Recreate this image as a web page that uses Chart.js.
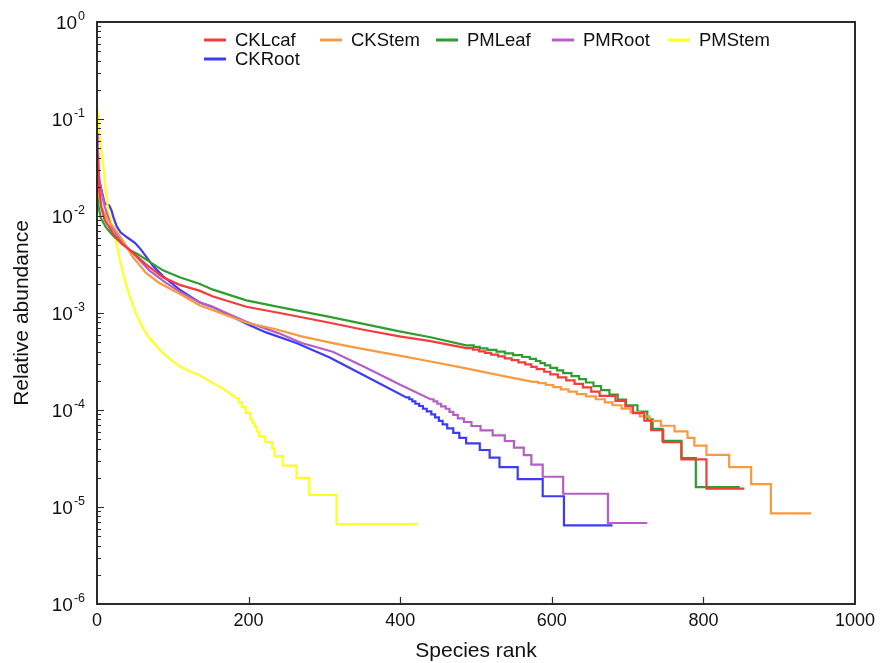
<!DOCTYPE html>
<html>
<head>
<meta charset="utf-8">
<script src="https://cdn.jsdelivr.net/npm/chart.js@4.4.1/dist/chart.umd.min.js"></script>
<style>
  html, body { margin: 0; padding: 0; background: #ffffff; }
  #wrap { width: 893px; height: 663px; position: relative; }
</style>
</head>
<body>
<div id="wrap"><canvas id="chart"></canvas></div>
<script>
// ---- series names and colours (legend order) ----
const seriesNames  = ['CKLcaf', 'CKStem', 'PMLeaf', 'PMRoot', 'PMStem', 'CKRoot'];
const seriesColors = ['#f43c3c', '#f99a40', '#2f9d2f', '#b55fc4', '#ffff22', '#3c3cf6'];

// ---- rank-abundance curves ----
// "Curve" arrays: [species rank, relative abundance] along the smooth head of each curve.
// "Steps" arrays: [rank at which a new abundance level starts, abundance]; the last entry is the final rank.
const ckLcafCurve = [[0,0.0447],[1,0.0316],[3,0.0186],[6,0.012],[10,0.00912],[21,0.00661],[32,0.00525],[43,0.00447],[65,0.00316],[87,0.00234],[109,0.00195],[135,0.0017],[153,0.00148],[197,0.00116],[241,0.001],[307,0.000794],[350,0.000676],[399,0.000575],[440,0.000513],[487,0.000434]];
const ckLcafSteps = [[496,4.19e-4],[504,4.03e-4],[512,3.88e-4],[520,3.72e-4],[529,3.57e-4],[538,3.41e-4],[547,3.26e-4],[556,3.1e-4],[565,2.95e-4],[573,2.79e-4],[580,2.64e-4],[590,2.48e-4],[598,2.33e-4],[608,2.17e-4],[619,2.02e-4],[630,1.86e-4],[641,1.71e-4],[652,1.55e-4],[663,1.40e-4],[684,1.24e-4],[697,1.09e-4],[707,9.3e-5],[722,7.75e-5],[731,6.2e-5],[747,4.65e-5],[771,3.1e-5],[804,1.55e-5],[854,1.55e-5]];

const ckStemCurve = [[0,0.0275],[2,0.0178],[5,0.0126],[14,0.00912],[21,0.00776],[34,0.00562],[47,0.0038],[65,0.00257],[82,0.00204],[109,0.00158],[135,0.0012],[153,0.00107],[197,0.000794],[232,0.000692],[270,0.000575],[311,0.00049],[350,0.000427],[399,0.000363],[440,0.000316],[487,0.000269],[530,0.000229],[575,0.000195]];
const ckStemSteps = [[582,1.89e-4],[592,1.81e-4],[602,1.72e-4],[612,1.63e-4],[622,1.55e-4],[633,1.46e-4],[645,1.38e-4],[658,1.29e-4],[670,1.20e-4],[680,1.12e-4],[692,1.03e-4],[704,9.46e-5],[716,8.6e-5],[729,7.74e-5],[744,6.88e-5],[762,6.02e-5],[779,5.16e-5],[788,4.3e-5],[804,3.44e-5],[834,2.58e-5],[863,1.72e-5],[889,8.6e-6],[942,8.6e-6]];

const pmLeafCurve = [[0,0.02],[2,0.0126],[5,0.00955],[12,0.00759],[21,0.00631],[32,0.00525],[43,0.00447],[55,0.00398],[65,0.00355],[87,0.00275],[109,0.00234],[135,0.002],[153,0.00174],[197,0.00135],[241,0.00115],[307,0.000912],[350,0.000776],[399,0.000646],[440,0.000562],[487,0.000464]];
const pmLeafSteps = [[497,4.48e-4],[505,4.32e-4],[515,4.16e-4],[527,4.0e-4],[538,3.84e-4],[549,3.68e-4],[561,3.52e-4],[571,3.36e-4],[579,3.2e-4],[585,3.04e-4],[591,2.88e-4],[598,2.72e-4],[607,2.56e-4],[615,2.4e-4],[626,2.24e-4],[636,2.08e-4],[645,1.92e-4],[655,1.76e-4],[665,1.6e-4],[676,1.44e-4],[687,1.28e-4],[698,1.12e-4],[713,9.6e-5],[726,8.0e-5],[733,6.4e-5],[746,4.8e-5],[771,3.2e-5],[790,1.6e-5],[848,1.6e-5]];

const pmRootCurve = [[0,0.0708],[1,0.0513],[3,0.0234],[10,0.0126],[19,0.00776],[34,0.00525],[52,0.0038],[69,0.00275],[91,0.00204],[109,0.00166],[135,0.00129],[153,0.00115],[197,0.000813],[240,0.000617],[270,0.00049],[311,0.000398],[351,0.000282],[400,0.000182],[440,0.000129]];
const pmRootSteps = [[444,1.23e-4],[449,1.16e-4],[454,1.09e-4],[460,1.03e-4],[465,9.58e-5],[470,8.89e-5],[476,8.21e-5],[484,7.52e-5],[494,6.84e-5],[506,6.16e-5],[522,5.47e-5],[538,4.79e-5],[550,4.1e-5],[563,3.42e-5],[573,2.74e-5],[588,2.05e-5],[615,1.37e-5],[674,6.84e-6],[726,6.84e-6]];

const pmStemCurve = [[0,0.129],[2,0.0891],[4,0.0603],[6,0.0447],[8,0.0347],[11,0.02],[14,0.0126],[17,0.00955],[21,0.00776],[25,0.0055],[30,0.00355],[36,0.00229],[43,0.00148],[52,0.000955],[60,0.000708],[68,0.000562],[75,0.00049],[85,0.000398],[97,0.000331],[109,0.000282],[122,0.000251],[135,0.000229],[150,0.000195],[166,0.000166],[175,0.000148],[184,0.000132]];
const pmStemSteps = [[187,1.2e-4],[191,1.07e-4],[196,9.34e-5],[202,8.0e-5],[205,7.34e-5],[208,6.67e-5],[211,6.0e-5],[214,5.34e-5],[222,4.67e-5],[231,4.0e-5],[234,3.34e-5],[245,2.67e-5],[263,2.0e-5],[280,1.33e-5],[316,6.67e-6],[423,6.67e-6]];

const ckRootCurve = [[0,0.0398],[3,0.0234],[10,0.0135],[16,0.0129],[19,0.0115],[22,0.0095],[26,0.0078],[31,0.0068],[40,0.006],[50,0.0053],[58,0.0045],[66,0.0037],[74,0.00305],[87,0.0024],[109,0.00174],[135,0.00129],[153,0.00115],[197,0.000776],[223,0.000631],[263,0.00049],[307,0.000347],[364,0.000204],[408,0.000135]];
const ckRootSteps = [[412,1.29e-4],[416,1.23e-4],[420,1.16e-4],[425,1.10e-4],[430,1.03e-4],[435,9.68e-5],[441,9.03e-5],[446,8.39e-5],[451,7.74e-5],[456,7.1e-5],[462,6.45e-5],[470,5.81e-5],[478,5.16e-5],[487,4.52e-5],[505,3.87e-5],[518,3.23e-5],[531,2.58e-5],[555,1.94e-5],[588,1.29e-5],[616,6.45e-6],[680,6.45e-6]];

// ---- axis ticks ----
const rankTicks = [0, 200, 400, 600, 800, 1000];
const decadeValues = [1e-6, 1e-5, 1e-4, 1e-3, 1e-2, 1e-1, 1];
const decadeExponents = ['-6', '-5', '-4', '-3', '-2', '-1', '0'];
const minorMantissas = [2, 3, 4, 5, 6, 7, 8, 9];

// Join the smooth head and the step tail into one polyline of {x, y} points.
function rankAbundancePath(curve, steps) {
  const pts = curve.map(([x, y]) => ({ x, y }));
  let level = curve[curve.length - 1][1];
  for (const [x, y] of steps) {
    pts.push({ x, y: level });
    if (y !== level) pts.push({ x, y });
    level = y;
  }
  return pts;
}

const curves = [
  [ckLcafCurve, ckLcafSteps],
  [ckStemCurve, ckStemSteps],
  [pmLeafCurve, pmLeafSteps],
  [pmRootCurve, pmRootSteps],
  [pmStemCurve, pmStemSteps],
  [ckRootCurve, ckRootSteps]
];

const FONT = '"Liberation Sans", Arial, sans-serif';
const AXIS_COLOR = '#2b2b2b';

// Frame, inward ticks, tick labels, axis titles and the in-plot legend.
const decorations = {
  id: 'decorations',
  afterDatasetsDraw(chart) {
    const { ctx, chartArea: a, scales: { x: xs, y: ys } } = chart;
    ctx.save();

    // frame
    ctx.strokeStyle = AXIS_COLOR;
    ctx.lineWidth = 2;
    ctx.strokeRect(a.left, a.top, a.right - a.left, a.bottom - a.top);

    // y ticks (major + minor), pointing into the plot
    ctx.lineWidth = 1.2;
    ctx.beginPath();
    decadeValues.forEach((v, i) => {
      const py = Math.round(ys.getPixelForValue(v)) + 0.5;
      ctx.moveTo(a.left, py); ctx.lineTo(a.left + 7, py);
      if (i < decadeValues.length - 1) {
        minorMantissas.forEach(m => {
          const my = Math.round(ys.getPixelForValue(m * v)) + 0.5;
          ctx.moveTo(a.left, my); ctx.lineTo(a.left + 4, my);
        });
      }
    });
    // x ticks
    rankTicks.forEach(t => {
      if (t === xs.min || t === xs.max) return;
      const px = Math.round(xs.getPixelForValue(t)) + 0.5;
      ctx.moveTo(px, a.bottom); ctx.lineTo(px, a.bottom - 7);
    });
    ctx.stroke();

    // x tick labels
    ctx.fillStyle = '#111';
    ctx.font = '18px ' + FONT;
    ctx.textAlign = 'center';
    ctx.textBaseline = 'top';
    rankTicks.forEach(t => ctx.fillText(String(t), xs.getPixelForValue(t), a.bottom + 8));

    // y tick labels: 10 with a raised exponent
    decadeValues.forEach((v, i) => {
      const py = ys.getPixelForValue(v);
      const exp = decadeExponents[i];
      ctx.font = '12.5px ' + FONT;
      const ew = ctx.measureText(exp).width;
      const right = a.left - 12;
      ctx.textAlign = 'left';
      ctx.textBaseline = 'alphabetic';
      ctx.fillText(exp, right - ew, py - 2);
      ctx.font = '19px ' + FONT;
      const bw = ctx.measureText('10').width;
      ctx.fillText('10', right - ew - bw - 1, py + 7);
    });

    // axis titles
    ctx.font = '21px ' + FONT;
    ctx.textAlign = 'center';
    ctx.textBaseline = 'middle';
    ctx.fillText('Species rank', (a.left + a.right) / 2, a.bottom + 47);
    ctx.save();
    ctx.translate(22, (a.top + a.bottom) / 2);
    ctx.rotate(-Math.PI / 2);
    ctx.fillText('Relative abundance', 0, 0);
    ctx.restore();

    // legend: five columns, wrapping to a second row
    ctx.font = '18.5px ' + FONT;
    ctx.textAlign = 'left';
    ctx.textBaseline = 'middle';
    const colW = 116, x0 = a.left + 107, y0 = a.top + 18, rowH = 19;
    seriesNames.forEach((name, i) => {
      const lx = x0 + (i % 5) * colW;
      const ly = y0 + Math.floor(i / 5) * rowH;
      ctx.strokeStyle = seriesColors[i];
      ctx.lineWidth = 3;
      ctx.beginPath();
      ctx.moveTo(lx, ly); ctx.lineTo(lx + 22, ly);
      ctx.stroke();
      ctx.fillStyle = '#111';
      ctx.fillText(name, lx + 31, ly + 1);
    });

    ctx.restore();
  }
};

new Chart(document.getElementById('chart'), {
  type: 'line',
  data: {
    datasets: seriesNames.map((name, i) => ({
      label: name,
      data: rankAbundancePath(curves[i][0], curves[i][1]),
      borderColor: seriesColors[i],
      borderWidth: 2.2,
      pointRadius: 0,
      tension: 0,
      fill: false
    }))
  },
  options: {
    responsive: true,
    maintainAspectRatio: false,
    animation: false,
    layout: { padding: { left: 97, right: 38, top: 22, bottom: 59 } },
    scales: {
      x: { type: 'linear', min: 0, max: 1000, display: false },
      y: { type: 'logarithmic', min: 1e-6, max: 1, display: false }
    },
    plugins: { legend: { display: false }, tooltip: { enabled: false } }
  },
  plugins: [decorations]
});
</script>
</body>
</html>
